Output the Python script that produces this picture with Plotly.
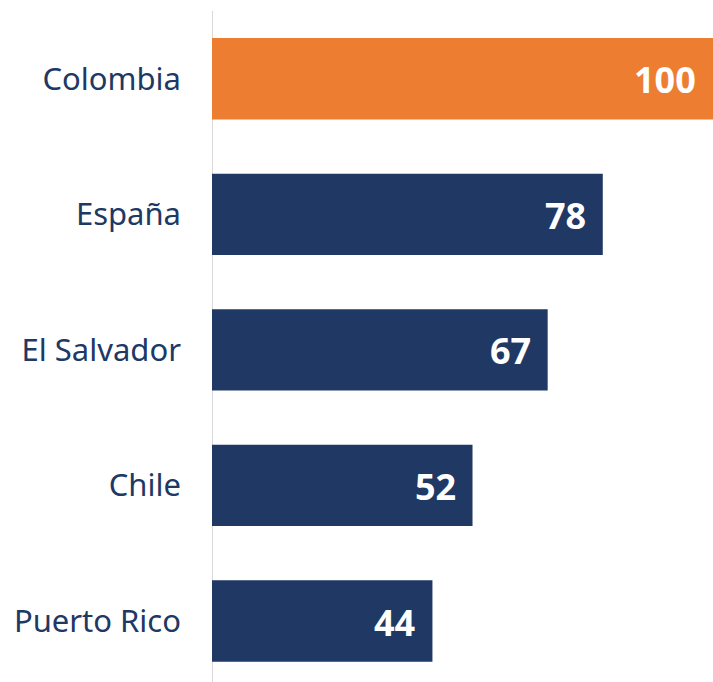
import plotly.graph_objects as go

countries = ["Colombia", "España", "El Salvador", "Chile", "Puerto Rico"]
values = [100, 78, 67, 52, 44]
bar_colors = ["#ED7D31", "#203864", "#203864", "#203864", "#203864"]

fig = go.Figure()
fig.add_trace(go.Bar(
    x=values, y=countries, orientation="h",
    marker=dict(color=bar_colors, line=dict(width=0)),
    width=0.6,
    hoverinfo="skip",
))

for c, v in zip(countries, values):
    fig.add_annotation(
        x=v, y=c, xref="x", yref="y", text=f"<b>{v}</b>",
        showarrow=False, xanchor="right", xshift=-15, yshift=-1,
        font=dict(family="Noto Sans", size=36, color="white"),
    )

fig.update_layout(
    width=713, height=682,
    margin=dict(l=212, r=0, t=11, b=0),
    paper_bgcolor="white", plot_bgcolor="white",
    showlegend=False,
    xaxis=dict(range=[0, 100], visible=False, fixedrange=True),
    yaxis=dict(
        range=[4.45, -0.5], categoryorder="array", categoryarray=countries,
        showgrid=False, zeroline=False, showline=False, fixedrange=True,
        ticks="", ticklabelstandoff=30,
        tickfont=dict(family="Noto Sans", size=31, color="#203864"),
    ),
    shapes=[dict(type="line", xref="x", yref="paper", x0=0, x1=0, y0=0, y1=1.0,
                 line=dict(color="#D9D9D9", width=2), layer="below")],
)

fig.write_html(
    "out.html",
    config={"displayModeBar": False},
    post_script="document.body.style.margin='0';document.body.style.overflow='hidden';",
)
